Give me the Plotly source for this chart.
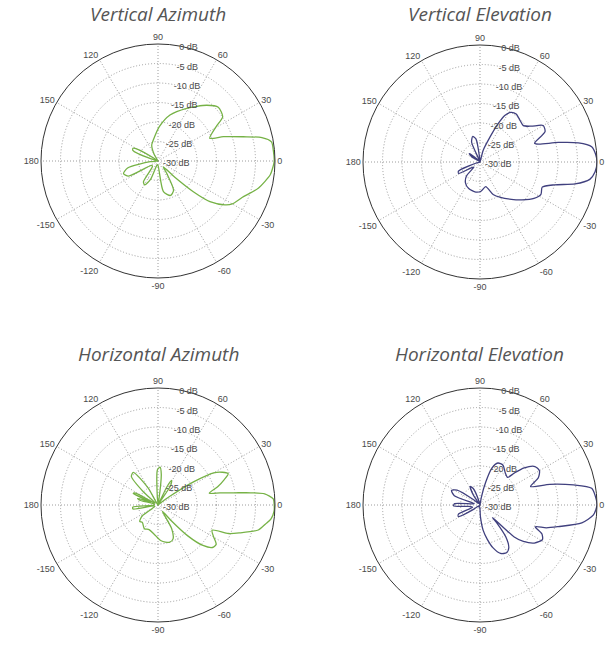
import plotly.graph_objects as go

# ---- data (angle in degrees, gain in dB) ----
va_theta = [0, 5, 9.6, 12.7, 15.9, 20.4, 23.7, 30.4, 34.4, 41.7, 48.8, 61.4, 75.4, 87.8, 102.6, 111.5, 120, 135,
            145, 150, 153, 157, 163, 170, 185, 193, 200, 207, 215, 225, 235, 241, 248, 258, 268, 280, 290, 298,
            305, 312, 316, 319, 322, 326.8, 330, 336.5, 345, 353, 356, 360]
va_db = [-0.2, -0.3, -0.5, -2.7, -7.3, -12.1, -15.5, -12.8, -9.9, -9.3, -11.0, -14.6, -17.8, -21.2, -24.5, -25.6, -28, -30,
         -29, -24, -22.8, -23, -28, -30, -28, -22, -20.6, -21.5, -28, -28, -23.5, -23, -25, -29, -29, -22, -20.6, -21.5,
         -26, -28, -24, -18, -13.1, -9.5, -8, -6.5, -3.3, -1.0, -0.6, -0.2]

ve_theta = [0, 4, 7.8, 11, 14, 17, 19, 25, 30, 35, 40, 46, 53, 58, 62, 65, 68, 75, 85, 95, 100, 106, 113, 120,
            135, 142, 148, 160, 195, 203, 208, 213, 220, 226, 235, 247, 262, 272, 283, 292, 300, 310, 318, 326,
            332, 338, 343, 347, 351, 355, 360]
ve_db = [0, -0.3, -1.1, -4.3, -9.3, -14.3, -15.2, -11.6, -11.3, -14, -15.5, -15.2, -14.6, -15, -16.5, -19.5, -23, -27,
         -30, -29, -24, -23.2, -24.5, -30, -29, -26.5, -27.5, -30, -29, -24, -23.8, -27, -28, -25, -23.5, -22.6, -22.2,
         -22.5, -23.5, -21, -19.5, -17.5, -15.5, -13.3, -12.3, -12.8, -10, -5, -1.5, -0.4, 0]

ha_theta = [0, 3, 6, 7.5, 9, 11, 13, 17, 21, 24, 27, 30, 33, 36, 40, 50, 57, 61, 64, 70, 80, 84, 87, 91, 95,
            110, 120, 127, 133, 138, 142, 148, 152, 155, 158, 162, 165, 168, 180, 185, 189, 194, 205, 215, 222,
            228, 240, 250, 262, 275, 287, 294, 300, 305, 310, 314, 318, 322, 326, 330, 335, 338, 341, 346, 350,
            353, 357, 360]
ha_db = [-0.2, -0.4, -2.5, -6, -10, -13.8, -16.5, -14, -11.8, -10.3, -11.5, -13.5, -19, -26, -29.5, -30, -24, -22.8,
         -25, -30, -29, -22, -20.3, -21, -28, -30, -25, -19.5, -20, -25, -29, -29, -23.5, -23, -28, -24.5, -25, -29,
         -29, -23.5, -23.5, -29, -29, -25, -23.7, -24, -23, -23.3, -22.5, -20.8, -20, -20.5, -23, -28, -25, -19,
         -14.5, -12.3, -12, -13.5, -14.7, -10.5, -8, -3.5, -2, -0.8, -0.2, -0.2]

he_theta = [0, 4, 8.5, 12.1, 16.5, 20, 25, 30, 35, 40, 43, 45, 52, 60, 67, 72, 76, 80, 85, 90, 105, 112, 118,
            124, 130, 140, 147, 153, 160, 166, 172, 177, 182, 187, 197, 203, 208, 214, 225, 230, 260, 272, 277,
            282, 287, 293, 299, 304, 309, 313, 315, 317, 320, 325, 331, 335, 338.5, 341, 344.5, 350, 355, 360]
he_db = [0, -0.3, -1.05, -5.5, -11.3, -16.2, -13.5, -12.4, -12.8, -15.2, -18, -20, -19.5, -18.2, -18.3, -20, -24,
         -28, -30, -30, -29, -25.5, -24.6, -27, -29.5, -28, -23, -21.8, -23, -28.5, -28, -23.5, -23.2, -27, -28,
         -24, -23.7, -28, -30, -29.5, -29.5, -27, -23.5, -21, -18.5, -16.5, -16, -16.8, -19.5, -23.5, -25.5, -18,
         -15.5, -13, -11.7, -12.5, -14.8, -12, -9.2, -3.5, -0.8, 0]

titles = ["Vertical Azimuth", "Vertical Elevation", "Horizontal Azimuth", "Horizontal Elevation"]
ang_ticks = [0, 30, 60, 90, 120, 150, 180, 210, 240, 270, 300, 330]
ang_text = ["0", "30", "60", "90", "120", "150", "180", "-150", "-120", "-90", "-60", "-30"]
r_ticks = [-30, -25, -20, -15, -10, -5, 0]
r_text = ["-30 dB", "-25 dB", "-20 dB", "-15 dB", "-10 dB", "-5 dB", "0 dB"]

GREEN = "#76b246"
BLUE = "#40407e"

W, H = 611, 659
panels = [
    dict(theta=va_theta, r=va_db, color=GREEN, cx=158, cy=161, title_top=0),
    dict(theta=ve_theta, r=ve_db, color=BLUE, cx=480, cy=162, title_top=0),
    dict(theta=ha_theta, r=ha_db, color=GREEN, cx=158, cy=505, title_top=340),
    dict(theta=he_theta, r=he_db, color=BLUE, cx=480, cy=505, title_top=340),
]
R = 117

fig = go.Figure()
layout = dict(width=W, height=H, margin=dict(l=0, r=0, t=0, b=0), showlegend=False,
              paper_bgcolor="white", plot_bgcolor="white", annotations=[])

for i, p in enumerate(panels):
    key = "polar" if i == 0 else f"polar{i+1}"
    fig.add_trace(go.Scatterpolar(
        theta=p["theta"], r=p["r"], mode="lines", subplot=key,
        line=dict(color=p["color"], width=1.3, shape="spline", smoothing=0.7),
        hoverinfo="skip"))
    x0 = (p["cx"] - R) / W
    x1 = (p["cx"] + R) / W
    y1 = 1 - (p["cy"] - R) / H
    y0 = 1 - (p["cy"] + R) / H
    layout[key] = dict(
        domain=dict(x=[x0, x1], y=[y0, y1]),
        bgcolor="white",
        angularaxis=dict(rotation=0, direction="counterclockwise", tickmode="array",
                         tickvals=ang_ticks, ticktext=ang_text, showline=True,
                         linecolor="#333333", linewidth=1, gridcolor="#9c9c9c", griddash="1px,2px",
                         ticks="", tickfont=dict(family="Liberation Sans", size=9, color="#4a4a4a")),
        radialaxis=dict(range=[-30, 0], tickmode="array", tickvals=r_ticks, ticktext=r_text,
                        angle=82, tickangle=82, side="clockwise", showline=False, ticks="",
                        gridcolor="#9c9c9c", griddash="1px,2px",
                        tickfont=dict(family="Liberation Sans", size=9, color="#4a4a4a")),
    )
    layout["annotations"].append(dict(
        text=titles[i], x=p["cx"] / W, y=1 - p["title_top"] / H, xref="paper", yref="paper",
        xanchor="center", yanchor="top", showarrow=False, borderpad=0,
        font=dict(family="Open Sans", size=19, color="#555555", style="italic")))

fig.update_layout(**layout)
fig.write_html("out.html")
